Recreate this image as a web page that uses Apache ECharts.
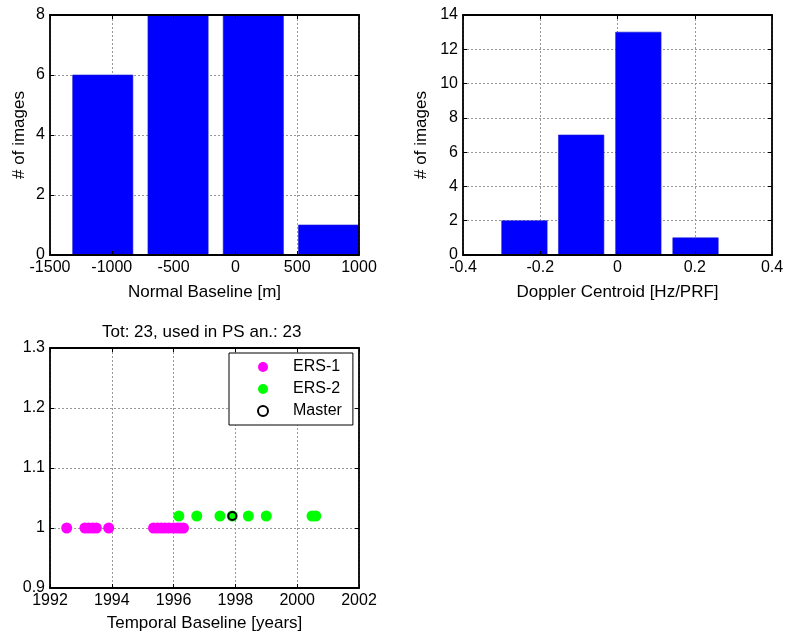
<!DOCTYPE html>
<html><head><meta charset="utf-8">
<script src="https://cdn.jsdelivr.net/npm/echarts@6/dist/echarts.min.js"></script>
<style>html,body{margin:0;padding:0;background:#fff}#c{width:788px;height:636px}</style>
</head><body><div id="c"></div>
<script>
// ---- data ----
const baselineCenters = [-1073, -464, 145, 754];
const baselineCounts = [6, 8, 8, 1];
const dopplerCenters = [-0.241, -0.094, 0.054, 0.202];
const dopplerCounts = [2, 7, 13, 1];
const ers1Years = [1992.54, 1993.13, 1993.25, 1993.38, 1993.5, 1993.9, 1995.35, 1995.48, 1995.6, 1995.72, 1995.85, 1996.0, 1996.12, 1996.22, 1996.32];
const ers1Values = [1, 1, 1, 1, 1, 1, 1, 1, 1, 1, 1, 1, 1, 1, 1];
const ers2Years = [1996.17, 1996.75, 1997.5, 1997.9, 1998.42, 1999.0, 2000.48, 2000.6];
const ers2Values = [1.02, 1.02, 1.02, 1.02, 1.02, 1.02, 1.02, 1.02];
const masterYears = [1997.9];
const masterValues = [1.02];
const titleText = 'Tot: 23, used in PS an.: 23';
const baselineAxis = {min: -1500, max: 1000, interval: 500, name: 'Normal Baseline [m]'};
const baselineCountAxis = {min: 0, max: 8, interval: 2, name: '# of images'};
const dopplerAxis = {min: -0.4, max: 0.4, interval: 0.2, name: 'Doppler Centroid [Hz/PRF]'};
const dopplerCountAxis = {min: 0, max: 14, interval: 2, name: '# of images'};
const yearAxis = {min: 1992, max: 2002, interval: 2, name: 'Temporal Baseline [years]'};
const levelAxis = {min: 0.9, max: 1.3, interval: 0.1, name: ''};

// ---- chart ----
const FONT = 'Liberation Sans, Arial, Helvetica, sans-serif';
const fmt = v => String(Math.round(v * 1000) / 1000);

function axesFor(kind, gi, ax, nameGap) {
  const isX = kind === 'x';
  const base = {gridIndex: gi, type: 'value', min: ax.min, max: ax.max, interval: ax.interval};
  const main = Object.assign({}, base, {
    position: isX ? 'bottom' : 'left', z: 10,
    axisLine: {show: true, onZero: false, lineStyle: {color: '#000', width: 1.8}},
    axisTick: {show: true, inside: true, length: 4, lineStyle: {color: '#000', width: 1}},
    axisLabel: {show: true, color: '#000', fontSize: 16, fontFamily: FONT, margin: 5, formatter: fmt, showMinLabel: true, showMaxLabel: true},
    splitLine: {show: false},
    name: ax.name, nameLocation: 'middle', nameGap: nameGap, nameRotate: isX ? 0 : 90,
    nameTextStyle: {color: '#000', fontSize: 17, fontFamily: FONT}
  });
  const opp = Object.assign({}, base, {
    position: isX ? 'top' : 'right', z: 10,
    axisLine: {show: true, onZero: false, lineStyle: {color: '#000', width: 1.8}},
    axisTick: {show: true, inside: true, length: 4, lineStyle: {color: '#000', width: 1}},
    axisLabel: {show: false}, splitLine: {show: false}
  });
  const gridAx = Object.assign({}, base, {
    position: isX ? 'bottom' : 'left', z: 0,
    axisLine: {show: false}, axisTick: {show: false}, axisLabel: {show: false},
    splitLine: {show: true, lineStyle: {color: '#999', width: 1, type: [2, 2]}}
  });
  return [main, opp, gridAx];
}

function histRender(params, api) {
  const c = api.value(0), w = api.value(1), h = api.value(2);
  const p0 = api.coord([c - w / 2, h]);
  const p1 = api.coord([c + w / 2, 0]);
  const cs = params.coordSys;
  const shape = echarts.graphic.clipRectByRect(
    {x: p0[0], y: p0[1], width: p1[0] - p0[0], height: p1[1] - p0[1]},
    {x: cs.x, y: cs.y, width: cs.width, height: cs.height});
  return shape && {type: 'rect', shape: shape, style: {fill: '#0000ff', stroke: '#1a1acc', lineWidth: 0.6}};
}
function histData(centers, counts) {
  const w = 0.8 * (centers[1] - centers[0]);
  return centers.map((c, i) => [c, w, counts[i]]);
}

const xAxes = [].concat(axesFor('x', 0, baselineAxis, 29), axesFor('x', 1, dopplerAxis, 29), axesFor('x', 2, yearAxis, 27));
const yAxes = [].concat(axesFor('y', 0, baselineCountAxis, 22), axesFor('y', 1, dopplerCountAxis, 33), axesFor('y', 2, levelAxis, 30));

const chart = echarts.init(document.getElementById('c'));
chart.setOption({
  animation: false,
  backgroundColor: '#fff',
  textStyle: {fontFamily: FONT},
  title: {text: titleText, left: 102, top: 324, padding: 0,
    textStyle: {color: '#000', fontSize: 17, fontWeight: 'normal', fontFamily: FONT}},
  grid: [
    {left: 50, top: 15, width: 309, height: 240},
    {left: 463, top: 15, width: 309, height: 240},
    {left: 50, top: 348, width: 309, height: 240}
  ],
  xAxis: xAxes,
  yAxis: yAxes,
  legend: {
    orient: 'vertical', left: 229, top: 353, align: 'left',
    padding: [6, 11, 6, 28], itemWidth: 50, itemHeight: 10, itemGap: 6,
    borderColor: '#000', borderWidth: 1, backgroundColor: '#fff',
    icon: 'circle',
    textStyle: {color: '#000', fontSize: 16, fontFamily: FONT},
    data: ['ERS-1', 'ERS-2', 'Master']
  },
  series: [
    {type: 'custom', xAxisIndex: 0, yAxisIndex: 0, renderItem: histRender,
      encode: {x: 0, y: 2}, data: histData(baselineCenters, baselineCounts), z: 2},
    {type: 'custom', xAxisIndex: 3, yAxisIndex: 3, renderItem: histRender,
      encode: {x: 0, y: 2}, data: histData(dopplerCenters, dopplerCounts), z: 2},
    {type: 'scatter', name: 'ERS-1', xAxisIndex: 6, yAxisIndex: 6, symbol: 'circle', symbolSize: 11,
      itemStyle: {color: '#ff00ff', opacity: 1}, data: ers1Years.map((y, i) => [y, ers1Values[i]]), z: 3},
    {type: 'scatter', name: 'ERS-2', xAxisIndex: 6, yAxisIndex: 6, symbol: 'circle', symbolSize: 11,
      itemStyle: {color: '#00ff00', opacity: 1}, data: ers2Years.map((y, i) => [y, ers2Values[i]]), z: 3},
    {type: 'scatter', name: 'Master', xAxisIndex: 6, yAxisIndex: 6, symbol: 'circle', symbolSize: 8,
      itemStyle: {color: 'rgba(0,0,0,0)', borderColor: '#000', borderWidth: 2, opacity: 1},
      data: masterYears.map((y, i) => [y, masterValues[i]]), z: 4}
  ]
});
</script></body></html>
